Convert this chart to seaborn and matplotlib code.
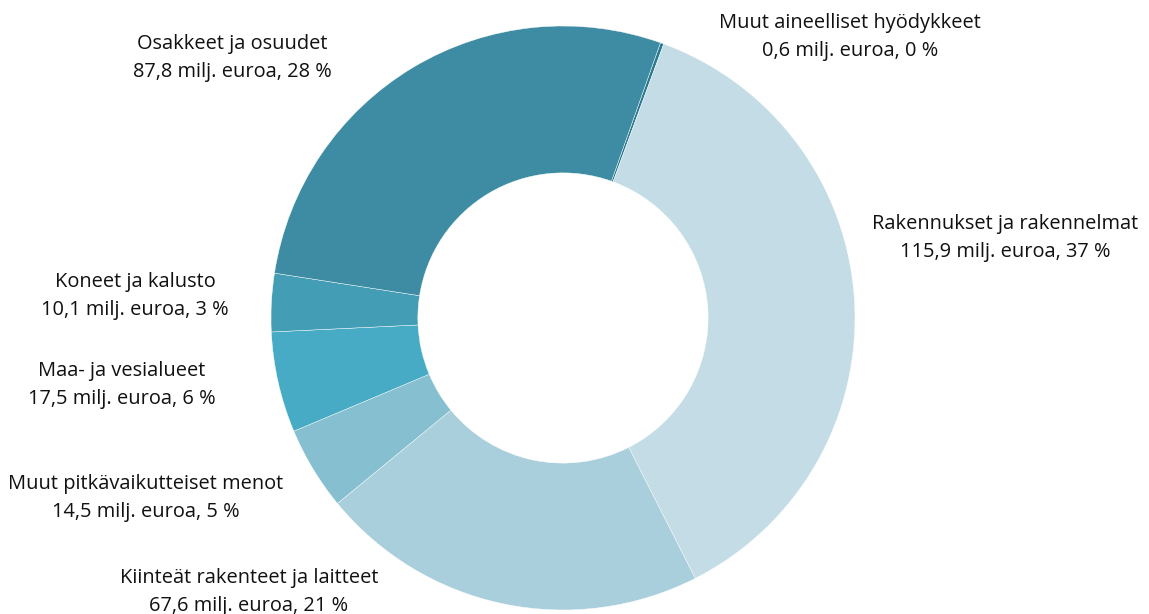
import matplotlib
matplotlib.use("Agg")
import matplotlib.pyplot as plt
import seaborn as sns
import numpy as np

sns.set_theme(style="white")
plt.rcParams['font.family'] = ['Open Sans', 'DejaVu Sans']

categories = [
    "Muut aineelliset hyödykkeet",
    "Rakennukset ja rakennelmat",
    "Kiinteät rakenteet ja laitteet",
    "Muut pitkävaikutteiset menot",
    "Maa- ja vesialueet",
    "Koneet ja kalusto",
    "Osakkeet ja osuudet",
]
values = [0.6, 115.9, 67.6, 14.5, 17.5, 10.1, 87.8]
value_labels = ["0,6", "115,9", "67,6", "14,5", "17,5", "10,1", "87,8"]
percent_labels = ["0", "37", "21", "5", "6", "3", "28"]

colors = ["#2b7a8f", "#c3dce5", "#aacfdc", "#85bfd0", "#48abc5", "#439db5", "#3d8ca3"]

# label centre offsets from the pie centre, in pixels (x right, y down)
label_offsets = [
    (287, -281), (442, -80), (-314, 274), (-417, 180),
    (-441, 67), (-428, -22), (-331, -260),
]

W, H = 1149, 614
cx, cy = 563, 318
R = 292

fig = plt.figure(figsize=(W / 100, H / 100), dpi=100)
ax = fig.add_axes([0, 0, 1, 1])

ax.pie(values, colors=colors, radius=R, startangle=90 - 19.5, counterclock=False,
       wedgeprops=dict(width=R * 0.503, edgecolor="white", linewidth=0.3),
       center=(0, 0))

ax.set_xlim(-cx, W - cx)
ax.set_ylim(-(H - cy), cy)
ax.set_aspect("equal")
ax.axis("off")

for cat, v, p, (dx, dy) in zip(categories, value_labels, percent_labels, label_offsets):
    ax.text(dx, -dy, f"{cat}\n{v} milj. euroa, {p} %", ha="center", va="center",
            fontsize=14.4, color="#111111", linespacing=1.5)

fig.savefig("out.png", dpi=100)
